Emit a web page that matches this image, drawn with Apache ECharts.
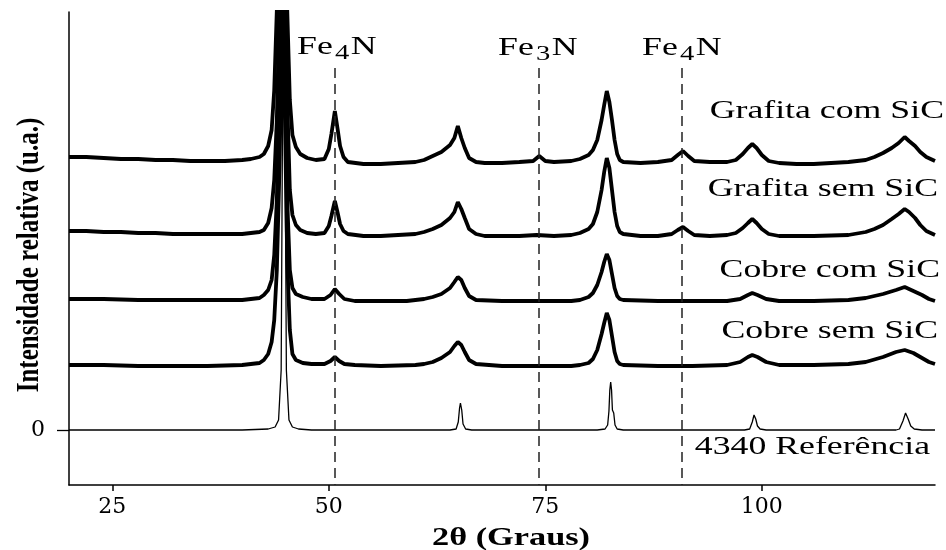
<!DOCTYPE html>
<html>
<head>
<meta charset="utf-8">
<script src="https://cdn.jsdelivr.net/npm/echarts@6/dist/echarts.min.js"></script>
<style>
  html, body { margin: 0; padding: 0; background: #fff; }
  #chart { width: 946px; height: 550px; }
</style>
</head>
<body>
<div id="chart"></div>
<script>
// ---- data: [2θ (deg), plotted relative intensity (stacked)] ----
const xTicks = [25, 50, 75, 100];
const yTicks = [0];
const seriesNames = ['Grafita com SiC', 'Grafita sem SiC', 'Cobre com SiC', 'Cobre sem SiC', '4340 Referência'];
const phaseLines = [50.7, 74.3, 90.7];
const phaseNames = [['Fe', '4', 'N'], ['Fe', '3', 'N'], ['Fe', '4', 'N']];

const grafitaComSiC = [
[20,273],[22,273],[24,272],[26,271],[28,271],[30,270],[32,270],[34,269],[36,269],[38,269],[40,270],[41,271],[42,273],[42.5,276],[43,284],[43.4,300],[43.7,340],[44.0,420],[44.3,520],[44.6,560],[44.9,520],[45.2,420],[45.5,330],[45.8,295],[46.2,283],[46.7,276],[47.5,272],[48.5,270],[49.5,271],[50,281],[50.3,296],[50.7,319],[51,302],[51.3,284],[51.7,273],[52.2,268],[54,266],[56,266],[58,267],[60,268],[61,270],[62,274],[63,278],[64,285],[64.5,292],[64.9,304],[65.3,292],[65.7,282],[66.2,272],[67,268],[68,267],[70,267],[72,268],[73.6,269],[74.3,274],[75,269],[76,268],[78,269],[79,271],[80,275],[80.5,280],[81,290],[81.5,310],[81.8,325],[82.1,339],[82.4,328],[82.7,310],[83,290],[83.3,276],[83.6,270],[84,268],[86,267],[88,268],[89.6,270],[90.3,275],[90.9,279],[91.5,274],[92.2,269],[94,268],[96,268],[97,270],[97.8,276],[98.4,282],[98.9,286],[99.4,282],[100,275],[100.8,269],[102,267],[104,266],[106,266],[108,267],[110,268],[112,270],[113,273],[114,277],[115,282],[115.8,287],[116.5,293],[117,289],[117.7,284],[118.3,278],[119,273],[120,269]
];
const grafitaSemSiC = [
[20,199],[22,199],[24,198],[26,198],[28,197],[30,197],[32,196],[34,196],[36,196],[38,196],[40,196],[41,197],[42,198],[42.5,200],[43,207],[43.4,222],[43.7,250],[44.0,310],[44.3,420],[44.6,500],[44.9,460],[45.2,330],[45.5,240],[45.8,215],[46.2,205],[46.7,200],[47.5,197],[48.5,196],[49.5,197],[50,204],[50.3,214],[50.7,229],[51,218],[51.3,206],[51.7,199],[52.2,196],[54,194],[56,194],[58,195],[60,196],[61,198],[62,201],[63,205],[64,212],[64.5,218],[64.9,228],[65.3,221],[65.7,212],[66.2,201],[67,196],[68,194],[70,194],[72,194],[74,195],[76,194],[78,195],[79,197],[80,201],[80.5,206],[81,218],[81.5,240],[81.8,258],[82.1,272],[82.4,262],[82.7,240],[83,218],[83.3,204],[83.6,198],[84,196],[86,194],[88,194],[89.6,196],[90.3,200],[90.9,203],[91.5,199],[92.2,195],[94,194],[96,195],[97,197],[97.8,202],[98.4,207],[98.9,211],[99.4,207],[100,201],[100.8,196],[102,194],[106,194],[110,195],[112,198],[113,201],[114,205],[115,211],[115.8,216],[116.5,221],[117,218],[117.7,212],[118.3,205],[119,199],[120,195]
];
const cobreComSiC = [
[20,131],[24,131],[28,130],[32,130],[36,130],[40,130],[41,131],[42,132],[42.5,135],[43,140],[43.4,150],[43.7,175],[44.0,230],[44.3,330],[44.6,460],[44.9,400],[45.2,230],[45.5,160],[45.8,142],[46.2,136],[47,133],[48,131],[49.5,131],[50.2,135],[50.7,141],[51.2,136],[51.8,131],[53,129],[56,129],[59,129],[61,131],[62,133],[63,136],[64,142],[64.5,148],[64.9,153],[65.3,150],[65.7,142],[66.2,134],[67,130],[70,129],[74,129],[78,129],[79,130],[80,133],[80.5,137],[81,145],[81.5,158],[81.8,168],[82.1,176],[82.4,170],[82.7,156],[83,142],[83.3,134],[83.6,131],[84,130],[88,129],[92,129],[96,129],[97.5,131],[98.4,135],[98.9,137],[99.5,135],[100.5,131],[102,129],[106,129],[110,130],[112,132],[114,136],[115.5,140],[116.5,143],[117.5,139],[118.5,135],[119.3,131],[120,129]
];
const cobreSemSiC = [
[20,65],[24,65],[28,64],[32,64],[36,64],[40,65],[41,66],[42,67],[42.5,70],[43,76],[43.4,88],[43.7,110],[44.0,160],[44.3,260],[44.6,400],[44.9,330],[45.2,170],[45.5,100],[45.8,76],[46.2,70],[47,67],[48,66],[49.5,66],[50.2,69],[50.7,73],[51.2,69],[51.8,66],[53,65],[56,64],[60,65],[61,66],[62,68],[63,72],[64,78],[64.5,84],[64.9,88],[65.3,85],[65.7,78],[66.2,70],[67,66],[70,64],[74,64],[78,64],[79,65],[80,67],[80.5,71],[81,80],[81.5,96],[81.8,107],[82.1,117],[82.4,110],[82.7,94],[83,78],[83.3,69],[83.6,66],[84,65],[88,64],[92,64],[96,65],[97.5,68],[98.4,73],[98.9,75],[99.5,73],[100.5,68],[102,65],[106,65],[110,66],[112,68],[114,73],[115.5,78],[116.5,80],[117.5,77],[118.5,72],[119.3,68],[120,66]
];
const referencia4340 = [
[20,0],[25,0],[30,0],[35,0],[40,0],[43,1],[43.8,3],[44.2,10],[44.5,60],[44.65,300],[44.8,600],[44.95,300],[45.1,60],[45.4,10],[45.8,3],[46.5,1],[48,0],[55,0],[60,0],[64,0],[64.7,1],[64.95,8],[65.1,22],[65.2,27],[65.35,20],[65.5,6],[65.8,1],[66.5,0],[75,0],[81,0],[81.9,1],[82.2,5],[82.35,19],[82.45,40],[82.55,48],[82.65,40],[82.75,20],[82.9,17],[83.05,5],[83.3,1],[84,0],[90,0],[98,0],[98.6,1],[98.9,8],[99.1,15],[99.3,11],[99.5,4],[99.8,1],[100.5,0],[110,0],[115.5,0],[115.9,1],[116.3,9],[116.6,17],[116.9,11],[117.2,4],[117.6,1],[118.5,0],[120,0]
];
const allSeries = [grafitaComSiC, grafitaSemSiC, cobreComSiC, cobreSemSiC, referencia4340];

// ---- chart ----
const chart = echarts.init(document.getElementById('chart'), null, { renderer: 'canvas' });
const SERIF = '"Liberation Serif", "Times New Roman", serif';
const TICKFONT = '"DejaVu Serif", serif';

const series = allSeries.map((d, i) => ({
  name: seriesNames[i],
  type: 'line',
  data: d,
  showSymbol: false,
  symbol: 'none',
  clip: true,
  lineStyle: { color: '#000', width: i === 4 ? 1.3 : 3.8 },
  z: 3
}));
series[4].markLine = {
  silent: true,
  symbol: ['none', 'none'],
  label: { show: false },
  lineStyle: { type: [10, 6], color: '#222', width: 1.5 },
  data: phaseLines.map(v => [{ coord: [v, 362] }, { coord: [v, -55] }])
};

const labelPos = [
  [944, 111.5], [938, 189.5], [940, 270], [938, 331.5], [930, 447.5]
];
const phasePos = [[297, 47], [498, 48], [642, 48]];

const graphic = [];
seriesNames.forEach((t, i) => {
  graphic.push({
    type: 'text', x: labelPos[i][0], y: labelPos[i][1], scaleX: 1.43,
    style: { text: t, font: '25px ' + SERIF, fill: '#000', align: 'right', verticalAlign: 'middle' }
  });
});
phaseNames.forEach((p, i) => {
  graphic.push({
    type: 'group', x: phasePos[i][0], y: phasePos[i][1], scaleX: 1.43,
    children: [
      { type: 'text', x: 0, y: 0, style: { text: p[0], font: '25px ' + SERIF, fill: '#000', align: 'left', verticalAlign: 'middle' } },
      { type: 'text', x: 26.5, y: 7, style: { text: p[1], font: '20px ' + SERIF, fill: '#000', align: 'left', verticalAlign: 'middle' } },
      { type: 'text', x: 37.5, y: 0, style: { text: p[2], font: '25px ' + SERIF, fill: '#000', align: 'left', verticalAlign: 'middle' } }
    ]
  });
});
graphic.push({
  type: 'text', x: 511, y: 538, scaleX: 1.32,
  style: { text: '2θ (Graus)', font: 'bold 26px ' + SERIF, fill: '#000', align: 'center', verticalAlign: 'middle' }
});
graphic.push({
  type: 'text', x: 30, y: 255, rotation: Math.PI / 2, scaleY: 1.3,
  style: { text: 'Intensidade relativa (u.a.)', font: 'bold 25px ' + SERIF, fill: '#000', align: 'center', verticalAlign: 'middle' }
});

chart.setOption({
  animation: false,
  backgroundColor: '#fff',
  grid: { left: 69, right: 11, top: 12, bottom: 65, containLabel: false },
  xAxis: {
    type: 'value', min: 20, max: 120,
    axisLine: { show: true, onZero: false, lineStyle: { color: '#000', width: 1.5 } },
    axisTick: { show: true, customValues: xTicks, length: 6, inside: false, lineStyle: { color: '#000', width: 1.5 } },
    axisLabel: { show: true, customValues: xTicks, margin: 11, fontFamily: TICKFONT, fontSize: 22, color: '#000' },
    splitLine: { show: false }
  },
  yAxis: {
    type: 'value', min: -55, max: 418,
    axisLine: { show: true, onZero: false, lineStyle: { color: '#000', width: 1.5 } },
    axisTick: { show: true, customValues: yTicks, length: 12, inside: false, lineStyle: { color: '#000', width: 1.3 } },
    axisLabel: { show: true, customValues: yTicks, margin: 24, fontFamily: TICKFONT, fontSize: 22, color: '#000' },
    splitLine: { show: false }
  },
  graphic: graphic,
  series: series
});
</script>
</body>
</html>
